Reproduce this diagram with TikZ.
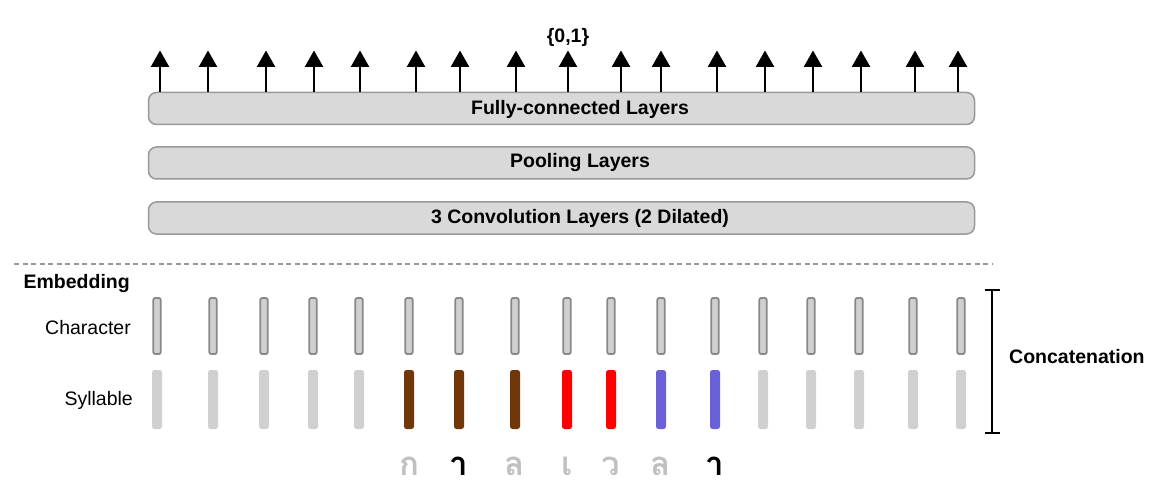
\documentclass[tikz,border=0pt]{standalone}
\usepackage{fontspec}
\setmainfont{Liberation Sans}
\newfontfamily\thaifont[Script=Thai]{Loma}
\usetikzlibrary{arrows.meta}
\definecolor{boxfill}{HTML}{D9D9D9}
\definecolor{boxdraw}{HTML}{999999}
\definecolor{barfill}{HTML}{D0D0D0}
\definecolor{bardraw}{HTML}{888888}
\definecolor{sylgray}{HTML}{D0D0D0}
\definecolor{sylbrown}{HTML}{703808}
\definecolor{sylred}{HTML}{FF0000}
\definecolor{sylblue}{HTML}{6A60D8}
\definecolor{thaigray}{HTML}{C0C0C0}
\definecolor{dashgray}{HTML}{999999}
\begin{document}
\begin{tikzpicture}[x=1pt,y=-1pt,
  layerbox/.style={draw=boxdraw, fill=boxfill, line width=1.5pt, rounded corners=8pt,
    minimum width=826pt, minimum height=32pt, inner sep=0pt},
  layertext/.style={font=\fontsize{19.5}{22}\selectfont\bfseries, inner sep=0pt},
  charbar/.style={draw=bardraw, fill=barfill, line width=1.8pt, rounded corners=2pt,
    minimum width=7.5pt, minimum height=56pt, inner sep=0pt},
  sylbar/.style={fill=#1, rounded corners=2.5pt, minimum width=10pt, minimum height=59pt, inner sep=0pt},
  txtlbl/.style={font=\fontsize{19.5}{22}\selectfont, inner sep=0pt},
  boldlbl/.style={font=\fontsize{19.5}{22}\selectfont\bfseries, inner sep=0pt},
  thaichar/.style={font=\thaifont\bfseries\fontsize{33}{38}\selectfont, inner sep=0pt, anchor=base},
  outarrow/.style={line width=2.6pt, -{Triangle[width=18pt 0,length=16.5pt 0]}},
  dashline/.style={draw=dashgray, line width=1.5pt, dash pattern=on 5pt off 3.5pt},
  bracketline/.style={line width=2pt, {Bar[width=15pt]}-{Bar[width=15pt]}}
]
\useasboundingbox (0,0) rectangle (1160,500);

% layer boxes
\node[layerbox] (fc) at (561.5,108.5) {};
\node[layertext] (fct) at (580,109) {Fully-connected Layers};
\node[layerbox] (pool) at (561.5,163) {};
\node[layertext] (poolt) at (580,163) {Pooling Layers};
\node[layerbox] (conv) at (561.5,218) {};
\node[layertext] (convt) at (580,218) {3 Convolution Layers (2 Dilated)};

% output arrows
\foreach \x [count=\i] in {160,208,266,314,360,416,460,516,568,621,661,717,765,813,861,915,958} {
  \coordinate (a\i) at (\x,50.5);
  \draw[outarrow] (fc.north -| a\i) -- (a\i);
}
\node[boldlbl] (out) at (568,37) {\{0,1\}};

% dashed separator
\coordinate (d1) at (14,264);
\coordinate (d2) at (993,264);
\draw[dashline] (d1) -- (d2);

% labels
\node[boldlbl, anchor=east] (emb) at (130,283) {Embedding};
\node[txtlbl, anchor=east] (chr) at (131,328) {Character};
\node[txtlbl, anchor=east] (syl) at (133,400) {Syllable};

% bars
\foreach \x/\col [count=\i] in {157/sylgray,213/sylgray,264/sylgray,313/sylgray,359/sylgray,
    409/sylbrown,459/sylbrown,515/sylbrown,567/sylred,611/sylred,661/sylblue,715/sylblue,
    763/sylgray,811/sylgray,859/sylgray,913/sylgray,961/sylgray} {
  \node[charbar] (c\i) at (\x,326) {};
  \node[sylbar=\col] (s\i) at (\x,399.5) {};
}

% bracket
\coordinate (bt) at (992,288.5);
\coordinate (bb) at (992,433.5);
\draw[bracketline] (bt) -- (bb);
\node[boldlbl, anchor=west] (concat) at (1009,357) {Concatenation};

% thai characters
\node[thaichar, text=thaigray] (t1) at (409,475) {ก};
\node[thaichar, text=black] (t2) at (459,475) {า};
\node[thaichar, text=thaigray] (t3) at (515,475) {ล};
\node[thaichar, text=thaigray] (t4) at (567,475) {เ};
\node[thaichar, text=thaigray] (t5) at (611,475) {ว};
\node[thaichar, text=thaigray] (t6) at (661,475) {ล};
\node[thaichar, text=black] (t7) at (715,475) {า};
\end{tikzpicture}
\end{document}
